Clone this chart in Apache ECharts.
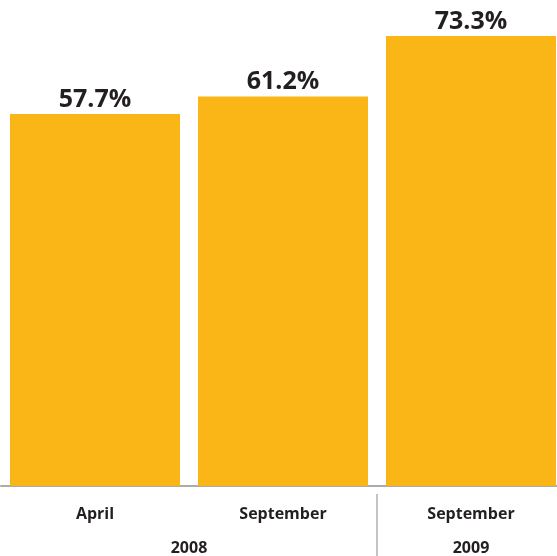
<!DOCTYPE html>
<html>
<head>
<meta charset="utf-8">
<script src="https://cdn.jsdelivr.net/npm/echarts@6/dist/echarts.min.js"></script>
<style>
  html, body { margin: 0; padding: 0; background: #fff; }
  #chart { width: 557px; height: 556px; }
</style>
</head>
<body>
<div id="chart"></div>
<script>
// data
const months = ['April', 'September', 'September']
const values = [57.7, 61.2, 73.3]
const years = ['2008', '2009']
const yearSpans = [2, 1] // months per year

// year axis: half-band slots, label in the middle of each group
const yearSlots = new Array(months.length * 2 + 1).fill('')
const yearBounds = []
let pos = 0
years.forEach((y, i) => {
  yearSlots[pos + yearSpans[i]] = y
  pos += yearSpans[i] * 2
  if (i < years.length - 1) yearBounds.push(pos)
})

const textColor = '#231F20'
const font = '"Open Sans", "Noto Sans", sans-serif'

const chart = echarts.init(document.getElementById('chart'))

chart.setOption({
  animation: false,
  grid: { left: 1, width: 564, top: 0, height: 486, outerBoundsMode: 'none', containLabel: false },
  xAxis: [
    {
      type: 'category',
      data: months,
      axisLine: { onZero: false, lineStyle: { color: '#ABABAB', width: 2 } },
      axisTick: { show: false },
      axisLabel: {
        margin: 20,
        color: textColor,
        fontFamily: font,
        fontWeight: 'bold',
        fontSize: 16
      }
    },
    {
      type: 'category',
      data: yearSlots,
      position: 'bottom',
      offset: 8,
      boundaryGap: false,
      axisLine: { show: false, onZero: false },
      axisTick: {
        show: true,
        length: 62,
        interval: (idx) => yearBounds.includes(idx),
        lineStyle: { color: '#C4C4C4', width: 2 }
      },
      axisLabel: {
        interval: 0,
        margin: 46,
        color: textColor,
        fontFamily: font,
        fontWeight: 'bold',
        fontSize: 16
      }
    }
  ],
  yAxis: {
    type: 'value',
    show: false,
    min: -16.7,
    max: 80.5,
    startValue: -16.7,
    splitLine: { show: false }
  },
  series: [
    {
      type: 'bar',
      data: values,
      barWidth: 170,
      itemStyle: { color: '#FAB617' },
      label: {
        show: true,
        position: 'top',
        distance: 2,
        formatter: (p) => p.value.toFixed(1) + '%',
        color: textColor,
        fontFamily: font,
        fontWeight: 'bold',
        fontSize: 25
      }
    }
  ]
})
</script>
</body>
</html>
